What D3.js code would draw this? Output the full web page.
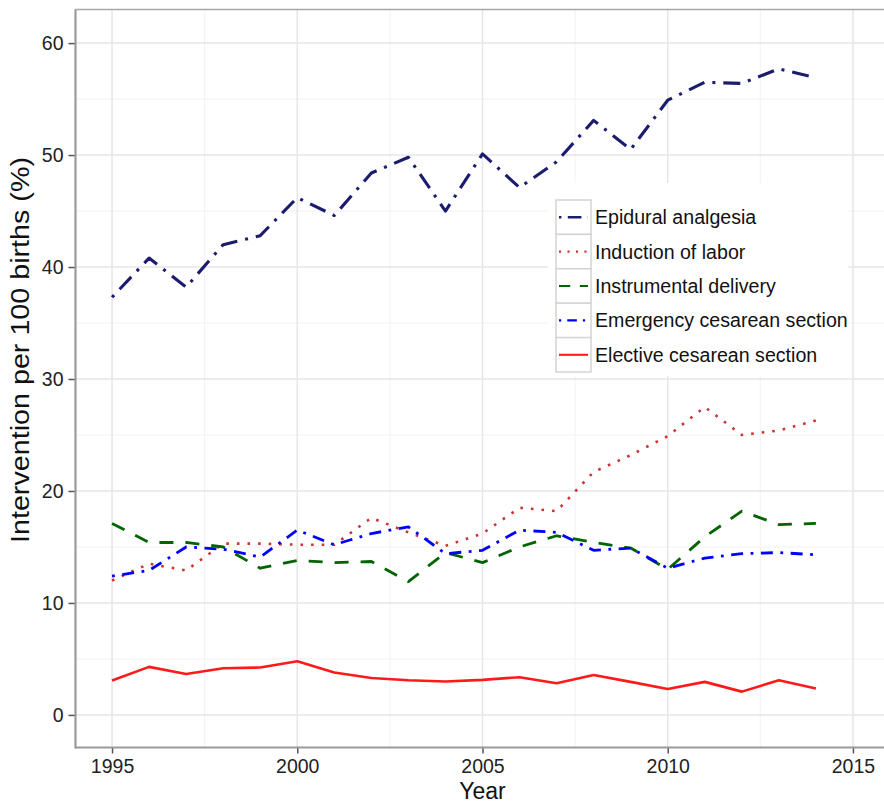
<!DOCTYPE html>
<html>
<head>
<meta charset="utf-8">
<script src="https://cdn.jsdelivr.net/npm/d3@7"></script>
<style>
  html, body { margin: 0; padding: 0; background: #fff; }
  svg { display: block; font-family: "Liberation Sans", Arial, Helvetica, sans-serif; }
</style>
</head>
<body>
<svg id="chart" width="884" height="804"></svg>
<script>
// ---- data ----
const years = [1995,1996,1997,1998,1999,2000,2001,2002,2003,2004,2005,2006,2007,2008,2009,2010,2011,2012,2013,2014];
const epidural     = [37.3,40.8,38.2,42.0,42.8,46.2,44.6,48.4,49.8,45.0,50.1,47.1,49.4,53.1,50.5,54.9,56.5,56.4,57.7,56.9];
const induction    = [12.0,13.5,12.9,15.3,15.3,15.2,15.2,17.6,16.3,15.1,16.2,18.5,18.2,21.7,23.2,24.9,27.5,25.0,25.4,26.3];
const instrumental = [17.1,15.4,15.4,15.0,13.1,13.8,13.6,13.7,11.9,14.5,13.6,15.0,16.0,15.4,14.9,13.0,15.9,18.2,17.0,17.1];
const emergency    = [12.4,12.9,15.0,14.8,14.1,16.5,15.2,16.2,16.8,14.4,14.7,16.5,16.3,14.7,14.9,13.1,14.0,14.4,14.5,14.3];
const elective     = [3.07,4.29,3.65,4.17,4.23,4.79,3.78,3.30,3.10,2.98,3.13,3.37,2.83,3.57,2.95,2.32,2.95,2.08,3.10,2.35];
const seriesNames  = ["Epidural analgesia","Induction of labor","Instrumental delivery","Emergency cesarean section","Elective cesarean section"];
const xTicks = [1995,2000,2005,2010,2015];
const yTicks = [0,10,20,30,40,50,60];
const xMinor = [1997.5,2002.5,2007.5,2012.5];
const yMinor = [5,15,25,35,45,55];
const xTitle = "Year";
const yTitle = "Intervention per 100 births (%)";

// ---- styles ----
const styles = [
  {color:"#1c1c6e", width:3.1, dash:"3,8,17,8"},
  {color:"#cd3333", width:2.6, dash:"2.6,8"},
  {color:"#006400", width:2.8, dash:"14,12"},
  {color:"#0000ff", width:2.8, dash:"2.8,7.5,12,7.5"},
  {color:"#ff1a1a", width:2.6, dash:null}
];
const values = [epidural, induction, instrumental, emergency, elective];

const svg = d3.select("#chart");
const x = d3.scaleLinear().domain([1994, 2016]).range([75, 890]);
const y = d3.scaleLinear().domain([-3, 63]).range([748.5, 9.5]);
const [x0, x1] = x.range();
const [yb, yt] = y.range();

// gridlines
const grid = svg.append("g");
grid.selectAll(".ymin").data(yMinor).join("line")
  .attr("x1", x0).attr("x2", x1).attr("y1", d => y(d)).attr("y2", d => y(d))
  .attr("stroke", "#f4f4f4").attr("stroke-width", 1.2);
grid.selectAll(".xmin").data(xMinor).join("line")
  .attr("y1", yb).attr("y2", yt).attr("x1", d => x(d)).attr("x2", d => x(d))
  .attr("stroke", "#f4f4f4").attr("stroke-width", 1.2);
grid.selectAll(".ymaj").data(yTicks).join("line")
  .attr("x1", x0).attr("x2", x1).attr("y1", d => y(d)).attr("y2", d => y(d))
  .attr("stroke", "#e6e6e6").attr("stroke-width", 1.5);
grid.selectAll(".xmaj").data(xTicks).join("line")
  .attr("y1", yb).attr("y2", yt).attr("x1", d => x(d)).attr("x2", d => x(d))
  .attr("stroke", "#e6e6e6").attr("stroke-width", 1.5);

// top border
svg.append("line").attr("x1", x0).attr("x2", x1).attr("y1", yt).attr("y2", yt)
  .attr("stroke", "#a8a8a8").attr("stroke-width", 1.5);

// lines
const line = d3.line().x((d, i) => x(years[i])).y(d => y(d));
values.forEach((vals, k) => {
  svg.append("path").datum(vals)
    .attr("d", line)
    .attr("fill", "none")
    .attr("stroke", styles[k].color)
    .attr("stroke-width", styles[k].width)
    .attr("stroke-dasharray", styles[k].dash)
    .attr("stroke-linejoin", "round");
});

// axes
const xAxis = d3.axisBottom(x).tickValues(xTicks).tickFormat(d3.format("d")).tickSize(6).tickPadding(6);
const gx = svg.append("g").attr("transform", `translate(0,${yb - 1})`).call(xAxis);
gx.select(".domain").remove();
gx.append("line").attr("x1", x0).attr("x2", x1).attr("stroke", "#9a9a9a").attr("stroke-width", 2);
gx.selectAll(".tick line").attr("stroke", "#555").attr("stroke-width", 1.5);
gx.selectAll(".tick text").attr("font-size", 19.5).attr("fill", "#222")
  .attr("font-family", "Liberation Sans, Arial, sans-serif");

const yAxis = d3.axisLeft(y).tickValues(yTicks).tickSize(7).tickPadding(5);
const gy = svg.append("g").attr("transform", `translate(${x0 + 0.5},0)`).call(yAxis);
gy.select(".domain").remove();
gy.append("line").attr("y1", yb).attr("y2", yt).attr("stroke", "#9a9a9a").attr("stroke-width", 2.2);
gy.selectAll(".tick line").attr("stroke", "#555").attr("stroke-width", 1.5);
gy.selectAll(".tick text").attr("font-size", 19.5).attr("fill", "#222")
  .attr("font-family", "Liberation Sans, Arial, sans-serif");

// axis titles
svg.append("text").attr("x", (x0 + 890) / 2).attr("y", 799)
  .attr("text-anchor", "middle").attr("font-size", 23).attr("fill", "#111").text(xTitle);
svg.append("text").attr("transform", `translate(29,350) rotate(-90)`)
  .attr("text-anchor", "middle").attr("font-size", 25).attr("fill", "#111")
  .attr("textLength", 386).attr("lengthAdjust", "spacingAndGlyphs").text(yTitle);

// legend
const lg = svg.append("g");
lg.append("rect").attr("x", 548).attr("y", 183).attr("width", 300).attr("height", 193).attr("fill", "#fff");
const rowH = 34.4, keyX = 556, keyY = 200, keyW = 35;
seriesNames.forEach((name, k) => {
  const ty = keyY + k * rowH;
  lg.append("rect").attr("x", keyX).attr("y", ty).attr("width", keyW).attr("height", rowH)
    .attr("fill", "#fff").attr("stroke", "#d4d4d4").attr("stroke-width", 1.5);
  lg.append("line").attr("x1", keyX + 3).attr("x2", keyX + keyW - 3)
    .attr("y1", ty + rowH / 2).attr("y2", ty + rowH / 2)
    .attr("stroke", styles[k].color).attr("stroke-width", styles[k].width * 0.8)
    .attr("stroke-dasharray", styles[k].dash ? styles[k].dash.split(",").map(v => +v * 0.8).join(",") : null);
  lg.append("text").attr("x", 595).attr("y", ty + rowH / 2).attr("dy", "0.36em")
    .attr("font-size", 19.6).attr("fill", "#111").text(name);
});
</script>
</body>
</html>
